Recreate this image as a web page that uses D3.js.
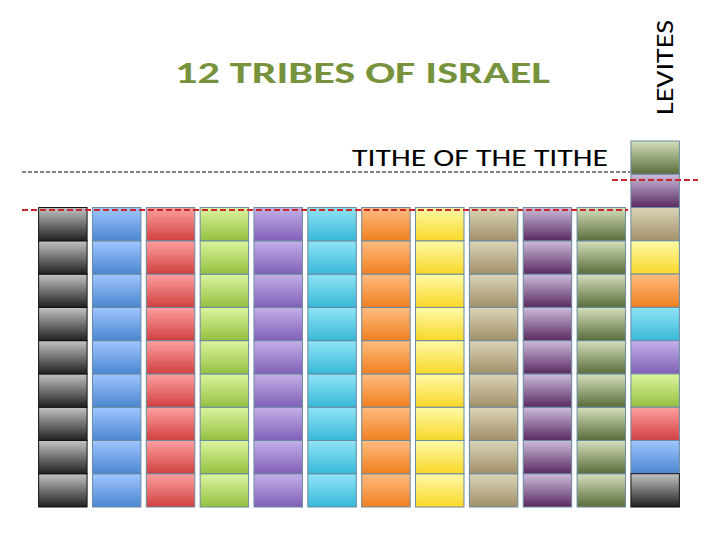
<!DOCTYPE html>
<html><head><meta charset="utf-8">
<script src="https://cdn.jsdelivr.net/npm/d3@7"></script>
<style>body{margin:0;background:#fff}</style></head>
<body><div id="chart"></div>
<script>
// tribes, left to right
const tribes = ["t1","t2","t3","t4","t5","t6","t7","t8","t9","t10","t11"];
const lightColors = ["#c4c4c4","#a0c6ff","#ffa0a0","#dcf5a0","#c4b0e8","#90e4f6","#ffbc80","#fffaa8","#dcd4b8","#ccbcdc","#d4e0bc"];
const darkColors  = ["#202020","#4a86d0","#d04040","#94c040","#8060b8","#38b8d8","#f08020","#f8d828","#a09068","#5a2a60","#5a6c3a"];
const unitsPerTribe = [9,9,9,9,9,9,9,9,9,9,9];
// Levites column, top to bottom: tithe of tithe, then one unit from each tribe (reversed)
const levitesOrder = [10,9,8,7,6,5,4,3,2,1,0];

const W = 720, H = 540;
const svg = d3.select("#chart").append("svg").attr("width", W).attr("height", H);
const defs = svg.append("defs");
tribes.forEach((t, i) => {
  const g = defs.append("linearGradient").attr("id", "g" + i)
    .attr("x1", 0).attr("y1", 0).attr("x2", 0).attr("y2", 1);
  g.append("stop").attr("offset", "0%").attr("stop-color", lightColors[i]);
  g.append("stop").attr("offset", "100%").attr("stop-color", darkColors[i]);
});

const x = d3.scaleBand().domain(d3.range(12)).range([37, 681]).paddingInner(0.1).paddingOuter(0.03);
const y = d3.scaleLinear().domain([0, 11]).range([507, 141]);

const cells = [];
tribes.forEach((t, i) => d3.range(unitsPerTribe[i]).forEach(k => cells.push({col: i, k, c: i})));
levitesOrder.forEach((c, j) => cells.push({col: 11, k: 10 - j, c}));

svg.selectAll("rect.cell").data(cells).enter().append("rect")
  .attr("x", d => x(d.col))
  .attr("y", d => y(d.k + 1))
  .attr("width", x.bandwidth())
  .attr("height", y(0) - y(1))
  .attr("fill", d => `url(#g${d.c})`)
  .attr("stroke", d => d.c === 0 ? "#111" : "#6a8aa0")
  .attr("stroke-width", 1);

// dashed lines
svg.append("line").attr("x1", 22).attr("x2", 630).attr("y1", 172).attr("y2", 172)
  .attr("stroke", "#000").attr("stroke-width", 1.2).attr("stroke-dasharray", "4,2");
svg.append("line").attr("x1", 612).attr("x2", 698).attr("y1", 180).attr("y2", 180)
  .attr("stroke", "#c8282c").attr("stroke-width", 2).attr("stroke-dasharray", "6,3");
svg.append("line").attr("x1", 22).attr("x2", 628).attr("y1", 210).attr("y2", 210)
  .attr("stroke", "#c8282c").attr("stroke-width", 2).attr("stroke-dasharray", "6,3");

const font = "Carlito, Open Sans, Liberation Sans, sans-serif";
svg.append("text").attr("x", 175).attr("y", 83)
  .attr("font-family", font).attr("font-size", 30).attr("font-weight", "bold")
  .attr("textLength", 375).attr("lengthAdjust", "spacingAndGlyphs")
  .attr("fill", "#76923c").text("12 TRIBES OF ISRAEL");
svg.append("text").attr("x", 352).attr("y", 166)
  .attr("font-family", font).attr("font-size", 24)
  .attr("textLength", 256).attr("lengthAdjust", "spacingAndGlyphs")
  .attr("fill", "#000").text("TITHE OF THE TITHE");
svg.append("text").attr("transform", "translate(673,115) rotate(-90)")
  .attr("font-family", font).attr("font-size", 24)
  .attr("textLength", 95).attr("lengthAdjust", "spacingAndGlyphs")
  .attr("fill", "#000").text("LEVITES");
</script></body></html>
